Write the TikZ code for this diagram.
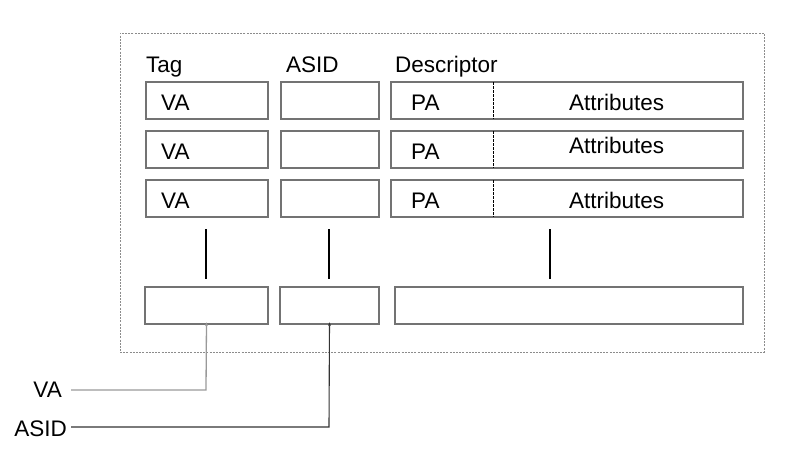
\documentclass[tikz,border=0pt]{standalone}
\usepackage{fontspec}
\setmainfont{Liberation Sans}
\usetikzlibrary{arrows.meta}
\begin{document}
\begin{tikzpicture}[x=1pt,y=-1pt,
  cell/.style={draw=black!55,line width=1.3pt,minimum height=37pt,inner sep=0pt},
  txt/.style={inner sep=0pt,font=\fontsize{22.5}{26}\selectfont},
  wire/.style={line width=1.2pt},
  frame/.style={draw=black!45,line width=0.9pt,dash pattern=on 2pt off 1.2pt}]
\useasboundingbox (0,0) rectangle (789,459);
\node[frame,minimum width=644pt,minimum height=319pt,inner sep=0pt] (frame) at (442,192.5) {};
% headers
\node[txt,anchor=base west] (htag) at (146,72) {Tag};
\node[txt,anchor=base west] (hasid) at (286,72) {ASID};
\node[txt,anchor=base west] (hdesc) at (395,72) {Descriptor};
% rows
\foreach \i/\y/\ab in {1/100.5/110,2/149.5/153,3/198.5/208}{
  \node[cell,minimum width=122pt] (va\i) at (207,\y) {};
  \node[cell,minimum width=98pt] (as\i) at (330,\y) {};
  \node[cell,minimum width=352pt] (d\i) at (567,\y) {};
  \draw[black,line width=0.9pt,dash pattern=on 2.5pt off 1.5pt] (493,\y-18.5) -- (493,\y+18.5);
  \node[txt,anchor=base west] (vat\i) at (161,\y+9.5) {VA};
  \node[txt,anchor=base west] (pat\i) at (411,\y+9.5) {PA};
  \node[txt,anchor=base west] (att\i) at (569,\ab) {Attributes};
}
% bottom row
\node[cell,minimum width=123pt] (vb) at (206.5,305.5) {};
\node[cell,minimum width=99pt] (ab) at (329.5,305.5) {};
\node[cell,minimum width=348pt] (db) at (569,305.5) {};
% continuation lines
\coordinate (c1a) at (206,229); \coordinate (c1b) at (206,279);
\coordinate (c2a) at (329,229); \coordinate (c2b) at (329,279);
\coordinate (c3a) at (550,229); \coordinate (c3b) at (550,279);
\draw[wire] (c1a) -- (c1b);
\draw[wire] (c2a) -- (c2b);
\draw[wire] (c3a) -- (c3b);
% inputs
\node[txt,anchor=base east] (inva) at (62,397) {VA};
\node[txt,anchor=base east] (inasid) at (67,436) {ASID};
\coordinate (k1) at (206,390);
\coordinate (k2) at (329,427);
\draw[black!40,line width=1.3pt,-{Latex[length=4pt,width=3pt]}] (71,390) -- (k1) -- ([yshift=3pt]vb.south);
\draw[black!80,line width=1.1pt,-{Latex[length=4pt,width=3pt]}] (71,427) -- (k2) -- ([yshift=3pt]ab.south);
\end{tikzpicture}
\end{document}
